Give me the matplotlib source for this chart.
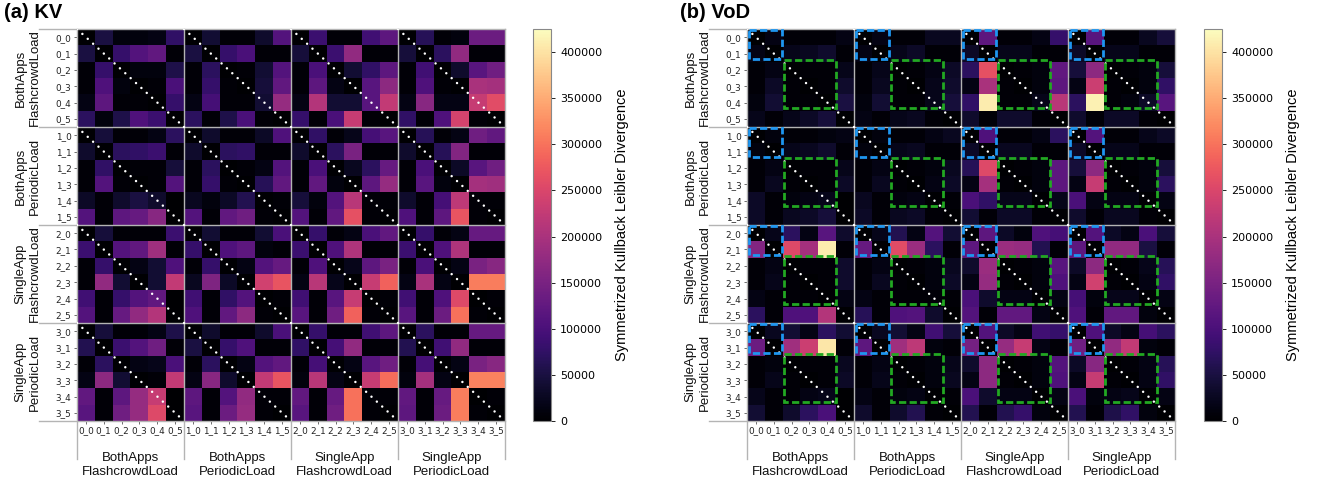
import numpy as np
import matplotlib
matplotlib.use('Agg')
import matplotlib.pyplot as plt
from matplotlib.patches import Rectangle

plt.rcParams['font.family'] = ['Liberation Sans', 'DejaVu Sans']

# tick labels / groups
TICKS = [f'{g}_{i}' for g in range(4) for i in range(6)]
GROUPS = ['BothApps\nFlashcrowdLoad', 'BothApps\nPeriodicLoad',
          'SingleApp\nFlashcrowdLoad', 'SingleApp\nPeriodicLoad']
VMAX = 425000

# values, in thousands
# (a) KV -- one list per row group, columns 0_0 .. 3_5
kv_both_flash = [
    [0, 50, 10, 10, 15, 75, 0, 40, 5, 5, 35, 110, 0, 85, 5, 5, 90, 120, 0, 65, 5, 10, 135, 135],
    [50, 0, 80, 110, 125, 5, 50, 0, 80, 100, 5, 5, 45, 0, 85, 175, 5, 5, 45, 0, 70, 175, 5, 5],
    [5, 80, 0, 10, 10, 55, 5, 70, 0, 5, 40, 110, 5, 100, 0, 40, 75, 120, 5, 90, 0, 35, 115, 140],
    [5, 105, 10, 0, 5, 100, 5, 80, 5, 0, 45, 125, 5, 120, 15, 0, 115, 170, 5, 105, 5, 0, 200, 195],
    [15, 120, 5, 5, 0, 80, 15, 95, 5, 5, 40, 180, 15, 210, 40, 40, 115, 225, 15, 165, 15, 15, 230, 260],
    [70, 10, 55, 105, 85, 0, 70, 5, 55, 100, 5, 0, 80, 5, 100, 230, 5, 0, 75, 5, 105, 245, 5, 0],
]
kv_both_periodic = [
    [0, 45, 5, 5, 15, 70, 0, 35, 5, 5, 30, 105, 0, 75, 5, 20, 95, 115, 0, 65, 5, 15, 140, 125],
    [35, 0, 70, 75, 85, 5, 35, 0, 70, 75, 5, 5, 35, 0, 70, 150, 5, 5, 35, 0, 65, 160, 5, 5],
    [5, 75, 0, 5, 5, 45, 5, 70, 0, 5, 15, 110, 5, 100, 0, 25, 70, 130, 5, 100, 0, 30, 115, 140],
    [5, 110, 5, 0, 5, 110, 5, 80, 5, 0, 65, 125, 5, 125, 10, 0, 120, 180, 5, 115, 10, 0, 195, 190],
    [30, 5, 35, 50, 35, 0, 25, 10, 30, 60, 0, 5, 45, 10, 110, 215, 5, 5, 35, 5, 95, 220, 5, 5],
    [110, 5, 120, 130, 165, 0, 110, 5, 125, 140, 5, 0, 110, 5, 125, 265, 5, 0, 105, 5, 120, 270, 5, 0],
]
kv_single_flash = [
    [0, 45, 5, 5, 5, 85, 0, 40, 5, 5, 40, 100, 0, 80, 5, 15, 100, 125, 0, 80, 5, 15, 130, 130],
    [85, 0, 110, 125, 190, 5, 80, 0, 105, 120, 10, 5, 85, 0, 105, 205, 5, 5, 85, 0, 105, 205, 5, 5],
    [5, 80, 0, 15, 40, 105, 5, 80, 0, 15, 110, 130, 5, 105, 0, 20, 120, 150, 5, 100, 0, 15, 150, 165],
    [5, 175, 40, 0, 40, 225, 25, 155, 30, 0, 240, 270, 15, 215, 20, 0, 230, 285, 15, 200, 15, 0, 310, 310],
    [90, 5, 80, 110, 125, 0, 90, 5, 75, 110, 0, 5, 90, 5, 115, 230, 0, 5, 90, 5, 105, 255, 0, 5],
    [110, 5, 130, 175, 210, 0, 105, 5, 125, 170, 5, 0, 115, 5, 140, 285, 5, 0, 115, 5, 135, 300, 5, 0],
]
kv_single_periodic = [
    [0, 45, 5, 5, 15, 55, 0, 35, 5, 5, 35, 100, 0, 80, 5, 5, 90, 120, 0, 70, 5, 5, 130, 130],
    [60, 0, 85, 110, 140, 5, 50, 0, 80, 105, 5, 5, 75, 0, 95, 175, 5, 5, 60, 0, 90, 175, 5, 5],
    [5, 70, 0, 15, 20, 100, 5, 70, 0, 15, 110, 125, 5, 95, 0, 15, 115, 140, 5, 95, 0, 15, 150, 165],
    [15, 170, 40, 0, 5, 225, 15, 165, 35, 0, 225, 270, 10, 215, 15, 0, 230, 295, 10, 195, 15, 0, 315, 315],
    [125, 5, 120, 180, 230, 0, 120, 5, 110, 175, 5, 5, 125, 5, 130, 300, 5, 5, 125, 5, 130, 310, 0, 5],
    [115, 5, 140, 180, 255, 0, 115, 5, 135, 180, 5, 0, 115, 5, 140, 300, 5, 0, 120, 5, 135, 310, 5, 0],
]

# (b) VoD
vod_both_flash = [
    [0, 15, 5, 5, 5, 15, 0, 15, 5, 5, 25, 25, 0, 120, 5, 5, 15, 80, 0, 115, 5, 5, 25, 45],
    [15, 0, 20, 25, 35, 5, 15, 0, 20, 30, 5, 5, 30, 0, 20, 20, 5, 5, 30, 0, 20, 20, 5, 5],
    [5, 15, 0, 5, 5, 20, 5, 20, 0, 5, 15, 30, 70, 265, 0, 5, 10, 125, 45, 170, 0, 5, 10, 45],
    [5, 30, 5, 0, 5, 35, 5, 25, 5, 0, 20, 35, 15, 200, 5, 0, 10, 120, 15, 235, 5, 0, 10, 75],
    [10, 40, 5, 5, 0, 50, 10, 40, 5, 5, 20, 45, 75, 410, 5, 5, 20, 215, 70, 415, 5, 10, 30, 115],
    [20, 5, 20, 30, 45, 0, 15, 5, 20, 25, 5, 0, 35, 5, 35, 35, 5, 0, 35, 5, 30, 30, 5, 0],
]
vod_both_periodic = [
    [0, 10, 5, 5, 10, 15, 0, 10, 5, 5, 15, 25, 0, 105, 5, 5, 15, 70, 0, 110, 5, 5, 20, 30],
    [10, 0, 20, 25, 35, 5, 10, 0, 20, 25, 5, 5, 30, 0, 25, 25, 5, 5, 30, 0, 20, 20, 5, 5],
    [5, 15, 0, 5, 5, 20, 5, 15, 0, 5, 10, 25, 65, 255, 0, 5, 10, 120, 45, 170, 0, 5, 10, 45],
    [5, 25, 5, 0, 5, 30, 5, 25, 5, 0, 15, 30, 15, 195, 5, 0, 10, 120, 15, 230, 5, 0, 10, 70],
    [30, 5, 10, 15, 20, 0, 25, 5, 10, 15, 0, 5, 100, 75, 20, 20, 0, 20, 100, 15, 15, 15, 0, 15],
    [30, 5, 25, 30, 45, 0, 30, 5, 25, 30, 5, 0, 40, 5, 30, 30, 5, 0, 35, 5, 25, 25, 5, 0],
]
vod_single_flash = [
    [0, 20, 70, 15, 115, 35, 0, 20, 60, 15, 110, 40, 0, 120, 30, 10, 105, 95, 0, 110, 30, 15, 100, 45],
    [160, 0, 255, 195, 410, 5, 130, 0, 260, 185, 70, 5, 120, 0, 185, 180, 60, 5, 120, 0, 175, 175, 50, 5],
    [5, 15, 0, 5, 5, 35, 5, 15, 0, 5, 10, 25, 35, 185, 0, 5, 10, 115, 30, 170, 0, 5, 20, 65],
    [5, 20, 5, 0, 5, 35, 5, 25, 5, 0, 10, 30, 15, 180, 5, 0, 10, 105, 15, 240, 5, 0, 15, 75],
    [15, 5, 5, 5, 0, 15, 15, 5, 5, 5, 5, 5, 100, 35, 15, 15, 0, 15, 95, 10, 20, 20, 0, 15],
    [70, 5, 105, 105, 210, 0, 65, 5, 105, 110, 35, 0, 110, 5, 125, 125, 15, 0, 105, 5, 125, 125, 10, 0],
]
vod_single_periodic = [
    [0, 25, 40, 15, 70, 40, 0, 25, 40, 15, 90, 45, 0, 110, 30, 15, 90, 80, 0, 105, 30, 15, 95, 70],
    [135, 0, 190, 235, 405, 5, 120, 0, 190, 220, 10, 5, 145, 0, 180, 230, 15, 5, 140, 0, 175, 225, 10, 5],
    [5, 10, 0, 5, 5, 25, 5, 15, 0, 5, 10, 20, 35, 170, 0, 5, 10, 110, 30, 165, 0, 5, 15, 65],
    [5, 20, 5, 0, 5, 30, 5, 20, 5, 0, 10, 25, 15, 170, 5, 0, 10, 105, 15, 230, 5, 0, 15, 75],
    [20, 5, 5, 15, 20, 0, 15, 5, 10, 15, 0, 5, 100, 35, 15, 15, 0, 15, 100, 10, 15, 20, 0, 15],
    [40, 5, 35, 70, 100, 0, 35, 5, 35, 60, 5, 0, 60, 5, 60, 80, 10, 0, 60, 5, 55, 75, 10, 0],
]

kv = np.vstack([kv_both_flash, kv_both_periodic, kv_single_flash, kv_single_periodic]) * 1000.
vod = np.vstack([vod_both_flash, vod_both_periodic, vod_single_flash, vod_single_periodic]) * 1000.

SEP = '#b4b4b4'


def draw_panel(fig, rect, crect, data, boxes=False):
    ax = fig.add_axes(rect)
    cax = fig.add_axes(crect)
    im = ax.imshow(data, cmap='magma', vmin=0, vmax=VMAX, aspect='auto',
                   extent=(0, 24, 24, 0), interpolation='nearest')
    ax.set_xlim(0, 24)
    ax.set_ylim(24, 0)
    pos = np.arange(24) + 0.5
    ax.set_xticks(pos)
    ax.set_xticklabels(TICKS, fontfamily='DejaVu Sans')
    ax.set_yticks(pos)
    ax.set_yticklabels(TICKS, fontfamily='DejaVu Sans')
    ax.tick_params(labelsize=6.4, length=2.5, width=0.6, color='#555555',
                   labelcolor='#222222', pad=1.5)
    for s in ax.spines.values():
        s.set_visible(False)

    # group separators, running out into the label area
    for k in range(0, 25, 6):
        ax.plot([k, k], [0, 26.3], color=SEP, lw=1.0, clip_on=False, zorder=3)
        ax.plot([-2.15, 24], [k, k], color=SEP, lw=1.0, clip_on=False, zorder=3)

    for g in range(4):
        ax.text(6 * g + 3, 26.7, GROUPS[g], ha='center', va='center',
                fontsize=9.5, linespacing=1.25, color='#111111')
        ax.text(-2.75, 6 * g + 3, GROUPS[g], ha='center', va='center',
                rotation=90, fontsize=9.5, linespacing=1.25, color='#111111')

    # dotted diagonal in every block
    for r in range(4):
        for c in range(4):
            ax.plot([6 * c, 6 * c + 6], [6 * r, 6 * r + 6], color='white', lw=1.8,
                    linestyle=(0, (0.01, 2.9)), dash_capstyle='round', zorder=4)
            if boxes:
                ax.add_patch(Rectangle((6 * c + 0.1, 6 * r + 0.08), 1.85, 1.75, fill=False,
                                       ec='#1e96f0', lw=2.0, ls=(0, (2.6, 1.2)), zorder=5))
                ax.add_patch(Rectangle((6 * c + 2.08, 6 * r + 1.9), 2.9, 2.95, fill=False,
                                       ec='#22a822', lw=2.0, ls=(0, (2.6, 1.2)), zorder=5))

    cb = fig.colorbar(im, cax=cax)
    cb.set_ticks(np.arange(0, 400001, 50000))
    cb.ax.tick_params(labelsize=8, length=3, width=0.6)
    for t in cb.ax.get_yticklabels():
        t.set_fontfamily('DejaVu Sans')
    cb.outline.set_edgecolor('#888888')
    cb.set_label('Symmetrized Kullback Leibler Divergence', fontsize=10.5, labelpad=9)
    return ax


fig = plt.figure(figsize=(13.19, 4.82), dpi=100)

H = 392 / 482
B = 1 - 421 / 482
draw_panel(fig, [77 / 1319, B, 428 / 1319, H], [533 / 1319, B, 18 / 1319, H], kv)
draw_panel(fig, [747 / 1319, B, 428 / 1319, H], [1204 / 1319, B, 18 / 1319, H], vod, boxes=True)

fig.text(4 / 1319, 1 - 13 / 482, '(a) KV', fontsize=14.5, fontweight='bold', va='center')
fig.text(680 / 1319, 1 - 13 / 482, '(b) VoD', fontsize=14.5, fontweight='bold', va='center')

plt.savefig('out.png', dpi=100)
